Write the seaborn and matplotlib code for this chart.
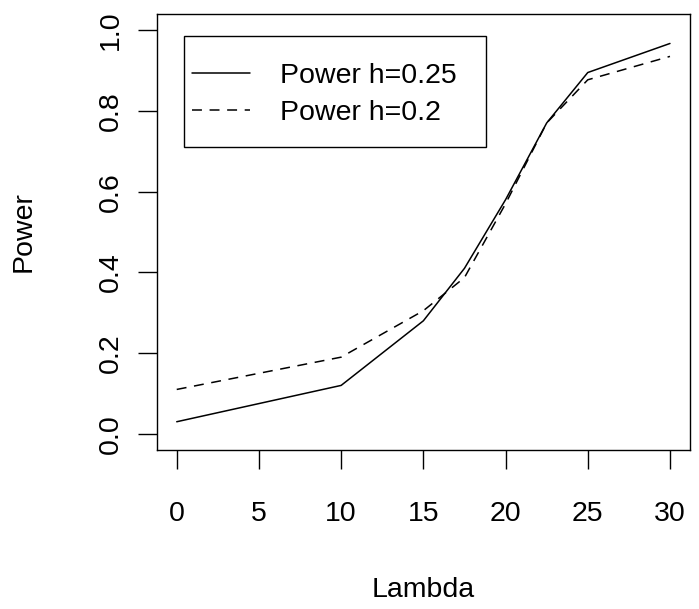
import numpy as np
import pandas as pd
import matplotlib
matplotlib.use("Agg")
import matplotlib.pyplot as plt
from matplotlib.patches import Rectangle
import seaborn as sns

# values
lambdas = [0, 10, 15, 17.5, 20, 22.5, 25, 30]
power_h025 = [0.03, 0.12, 0.28, 0.41, 0.58, 0.77, 0.895, 0.967]
power_h02 = [0.11, 0.19, 0.305, 0.387, 0.57, 0.77, 0.877, 0.935]
x_ticks = [0, 5, 10, 15, 20, 25, 30]
y_ticks = [0.0, 0.2, 0.4, 0.6, 0.8, 1.0]

sns.set_style("white")
plt.rcParams['font.family'] = ['Liberation Sans', 'DejaVu Sans']
plt.rcParams['text.color'] = 'black'
plt.rcParams['axes.labelcolor'] = 'black'

df = pd.DataFrame({
    'Lambda': lambdas * 2,
    'Power': power_h025 + power_h02,
    'Series': ['Power h=0.25'] * len(lambdas) + ['Power h=0.2'] * len(lambdas),
})

fs = 20.5
W, H = 699, 609
ax_l, ax_r, ax_t, ax_b = 157, 689.7, 14, 450
fig = plt.figure(figsize=(W / 100, H / 100), dpi=100)
ax = fig.add_axes([ax_l / W, 1 - ax_b / H, (ax_r - ax_l) / W, (ax_b - ax_t) / H])

def px_to_axes(px, py):
    return (px - ax_l) / (ax_r - ax_l), (ax_b - py) / (ax_b - ax_t)

sns.lineplot(data=df, x='Lambda', y='Power', style='Series',
             dashes={'Power h=0.25': '', 'Power h=0.2': (6.5, 5)},
             color='black', linewidth=1.1, ax=ax, legend=False)

ax.set_xlim(-1.2, 31.2)
ax.set_ylim(-0.04, 1.04)
ax.set_xticks(x_ticks)
ax.set_yticks(y_ticks)
ax.set_xticklabels([str(t) for t in x_ticks])
ax.set_yticklabels([f"{t:.1f}" for t in y_ticks], rotation=90, va='center')
ax.tick_params(axis='both', direction='out', length=14, width=1.0,
               labelsize=fs, color='black', labelcolor='black',
               bottom=True, left=True)
ax.tick_params(axis='x', pad=23)
ax.tick_params(axis='y', pad=10)
for s in ax.spines.values():
    s.set_color('black')
    s.set_linewidth(1.0)

ax.set_xlabel('Lambda', fontsize=fs, labelpad=36)
ax.set_ylabel('Power', fontsize=fs, labelpad=44)

# legend box drawn separately so its padding matches the original
x0, y0 = px_to_axes(184, 147)
x1, y1 = px_to_axes(486, 36)
ax.add_patch(Rectangle((x0, y0), x1 - x0, y1 - y0, transform=ax.transAxes,
                       fill=True, facecolor='white', edgecolor='black',
                       linewidth=1.0, zorder=4))

handles = [plt.Line2D([], [], color='black', linewidth=1.1),
           plt.Line2D([], [], color='black', linewidth=1.1, dashes=(6.5, 5))]
leg = ax.legend(handles, ['Power h=0.25', 'Power h=0.2'],
                loc='upper left', bbox_to_anchor=px_to_axes(192, 63),
                fontsize=fs, frameon=False, handlelength=2.04, handletextpad=1.05,
                borderpad=0, labelspacing=0.4, borderaxespad=0)
leg.set_zorder(5)

fig.savefig('out.png', dpi=100)
